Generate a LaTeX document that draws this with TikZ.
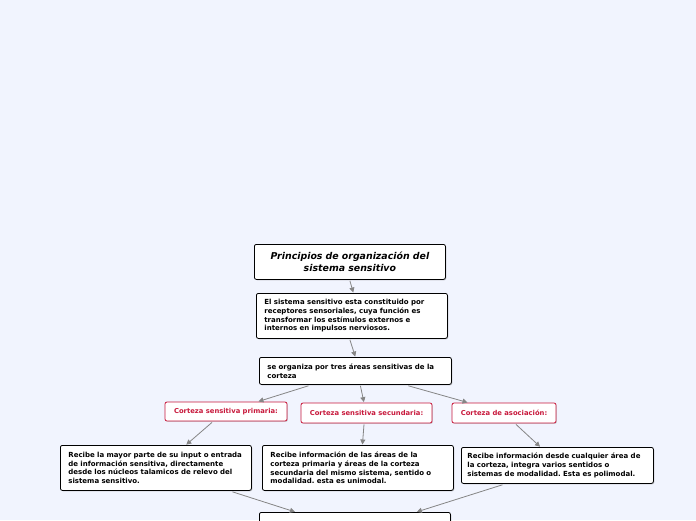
\documentclass[tikz,border=0pt]{standalone}
\usepackage{fontspec}
\setmainfont{DejaVu Sans}
\usetikzlibrary{arrows.meta,shadows}

\definecolor{bgblue}{HTML}{F1F4FE}
\definecolor{redline}{HTML}{C8193C}
\definecolor{linkgray}{HTML}{858585}
\hyphenpenalty=10000
\exhyphenpenalty=10000
\frenchspacing

\begin{document}
\begin{tikzpicture}[x=1pt,y=-1pt,line width=0.8pt,
	box/.style={draw=black, fill=white, rounded corners=2pt,
		drop shadow={shadow xshift=0.9pt,shadow yshift=-0.9pt,opacity=0.4},
		anchor=north west, align=left, inner xsep=8pt, inner ysep=2pt,
		font=\bfseries\fontsize{7}{8.7}\selectfont},
	redbox/.style={draw=redline, fill=white, rounded corners=2pt, text=redline,
		drop shadow={shadow xshift=0.9pt,shadow yshift=-0.9pt,opacity=0.3},
		align=center, inner sep=1pt,
		font=\bfseries\fontsize{6.8}{8}\selectfont},
	link/.style={draw=linkgray, line width=0.8pt,
		-{Triangle[width=5pt,length=5pt]}, shorten >=0.5pt}]
	
	\fill[bgblue] (0,0) rectangle (696,520);
	\useasboundingbox (0,0) rectangle (696,520);
	
	% main column
	\node[box, align=center, text width=175pt, minimum height=35pt,
		font=\bfseries\itshape\fontsize{9.4}{12}\selectfont] (title) at (254,244)
		{Principios de organización del\\sistema sensitivo};
	\node[box, text width=175pt, minimum height=45pt] (system) at (256,293)
		{El sistema sensitivo esta constituido por receptores sensoriales, cuya función es transformar los estímulos externos e internos en impulsos nerviosos.};
	\node[box, text width=176pt, minimum height=27pt] (areas) at (259,357)
		{se organiza por tres áreas sensitivas de la corteza};
	
	% the three areas
	\node[redbox, minimum width=122pt, minimum height=19pt] (primaria) at (226,411.5)
		{Corteza sensitiva primaria:};
	\node[redbox, minimum width=131pt, minimum height=20pt] (secundaria) at (366.5,413)
		{Corteza sensitiva secundaria:};
	\node[redbox, minimum width=104pt, minimum height=20pt] (asociacion) at (504,413)
		{Corteza de asociación:};
	
	\node[box, text width=175pt, minimum height=45pt] (recibeprim) at (60,445)
		{Recibe la mayor parte de su input o entrada de información sensitiva, directamente desde los núcleos talamicos de relevo del sistema sensitivo.};
	\node[box, text width=175pt, minimum height=45pt] (recibesec) at (262,445)
		{Recibe información de las áreas de la corteza primaria y áreas de la corteza secundaria del mismo sistema, sentido o modalidad. esta es unimodal.};
	\node[box, text width=180pt, inner xsep=6pt, minimum height=36pt] (recibeasoc) at (461,447)
		{Recibe información desde cualquier área de\\la corteza, integra varios sentidos o\\sistemas de modalidad. Esta es polimodal.};
	
	% cut at the lower edge
	\node[box, text width=175pt, minimum height=30pt] (final) at (259,512) {};
	
	% links
	\draw[link] ([yshift=-1pt]title.south) -- ([xshift=1.5pt]system.north);
	\draw[link] ([xshift=-2pt,yshift=-1pt]system.south) -- (areas.north);
	\draw[link] ([xshift=-47pt,yshift=-1pt]areas.south) -- ([xshift=32pt]primaria.north);
	\draw[link] ([xshift=5pt,yshift=-1pt]areas.south) -- ([xshift=-2.5pt]secundaria.north);
	\draw[link] ([xshift=53pt,yshift=-1pt]areas.south) -- ([xshift=-36pt]asociacion.north);
	\draw[link] ([xshift=-14pt,yshift=-1pt]primaria.south) -- ([xshift=30pt]recibeprim.north);
	\draw[link] ([xshift=-2.5pt,yshift=-1pt]secundaria.south) -- ([xshift=4.5pt]recibesec.north);
	\draw[link] ([xshift=12pt,yshift=-1pt]asociacion.south) -- ([xshift=-17pt]recibeasoc.north);
	\draw[link] ([xshift=76.5pt,yshift=-1pt]recibeprim.south) -- ([xshift=-59.5pt]final.north);
	\draw[link] ([xshift=-55pt,yshift=-1pt]recibeasoc.south) -- ([xshift=61.5pt]final.north);
	
\end{tikzpicture}
\end{document}
